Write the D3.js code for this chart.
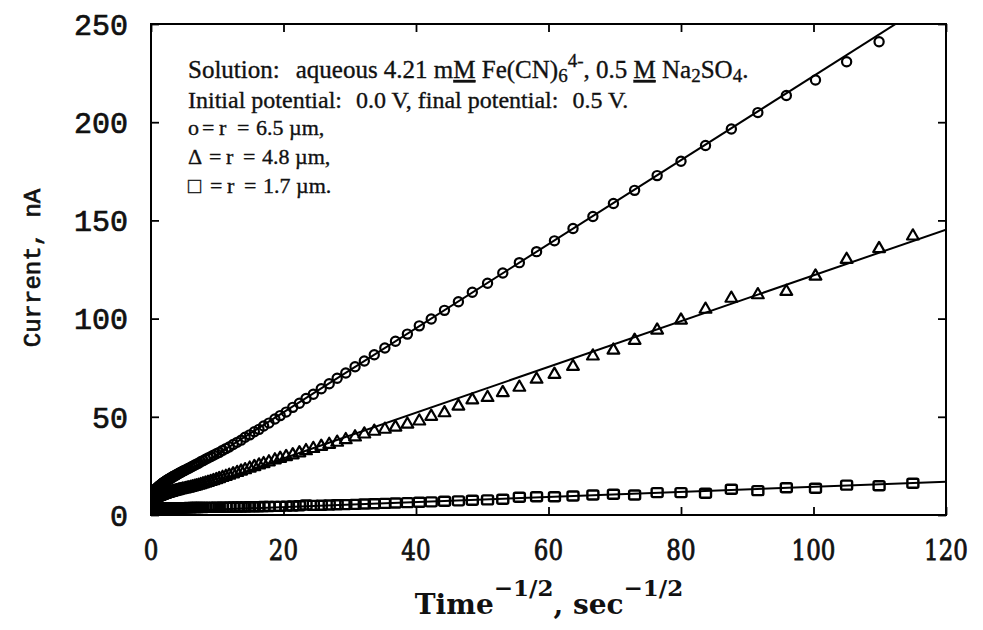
<!DOCTYPE html>
<html><head><meta charset="utf-8">
<script src="https://cdn.jsdelivr.net/npm/d3@7"></script>
<style>
body{margin:0;background:#fff;}
svg{display:block;}
</style></head><body>
<svg id="chart" width="983" height="630"></svg>
<script>
// Time^-1/2 (sec^-1/2) at which the current was sampled
const invSqrtTime = [0.50,0.52,0.54,0.57,0.59,0.62,0.65,0.68,0.71,0.74,0.78,0.81,0.85,0.89,0.93,0.97,
  1.02,1.07,1.12,1.17,1.22,1.28,1.34,1.40,1.47,1.53,1.60,1.68,1.76,1.84,1.92,
  2.01,2.11,2.21,2.31,2.42,2.53,2.65,2.77,2.90,3.03,3.17,3.32,3.47,3.64,3.80,3.98,
  4.17,4.36,4.56,4.77,5.00,5.23,5.47,5.72,5.99,6.27,6.56,6.86,7.18,7.51,7.86,8.23,8.61,
  9.01,9.43,9.87,10.3,10.8,11.3,11.8,12.4,13.0,13.6,14.2,14.9,15.6,16.3,17.0,17.8,18.7,19.5,
  20.4,21.4,22.4,23.4,24.5,25.7,26.9,28.1,29.4,30.8,32.2,33.7,35.3,36.9,38.7,40.5,42.3,44.3,
  46.4,48.5,50.8,53.1,55.6,58.2,60.9,63.7,66.7,69.8,73.0,76.4,80.0,83.7,87.6,91.6,95.9,
  100.3,105.0,109.9,115.0];

// Current (nA), r = 6.5 um electrode (circles)
const current65 = [12.4,12.1,12.6,12.3,12.8,12.5,12.9,12.7,13.1,12.9,13.3,13.2,13.5,13.4,13.8,13.7,
  14.1,14.0,14.4,14.3,14.7,14.8,15.0,15.1,15.4,15.4,15.8,15.9,16.2,16.3,16.6,
  16.7,17.0,17.2,17.5,17.6,18.0,18.2,18.5,18.6,19.0,19.2,19.6,19.8,20.2,20.4,20.8,
  21.1,21.5,21.8,22.3,22.6,23.0,23.4,23.8,24.3,24.8,25.3,25.9,26.4,27.1,27.7,28.4,29.0,
  29.7,30.5,31.2,31.9,32.9,33.8,34.6,35.9,37.0,38.1,39.6,40.8,42.4,43.6,45.3,46.8,48.9,50.6,
  52.4,54.8,56.9,59.3,61.5,64.3,66.8,69.6,72.3,75.5,78.4,81.6,85.0,88.5,92.1,96.3,99.8,104.2,
  108.6,113.4,118.0,123.2,128.5,134.1,139.6,145.9,152.0,158.6,165.3,172.8,180.1,188.1,196.5,204.9,213.6,
  221.5,230.8,241.0];

// Current (nA), r = 4.8 um electrode (triangles)
const current48 = [8.6,8.4,8.8,8.6,8.9,8.7,9.0,8.8,9.1,8.9,9.2,9.0,9.3,9.1,9.4,9.2,
  9.5,9.3,9.6,9.4,9.7,9.6,9.8,9.7,10.0,9.9,10.2,10.1,10.3,10.3,10.5,
  10.5,10.7,10.7,10.9,10.9,11.1,11.2,11.3,11.4,11.5,11.7,11.8,12.0,12.1,12.3,12.4,
  12.6,12.8,12.9,13.1,13.2,13.4,13.6,13.8,14.0,14.3,14.5,14.8,15.1,15.4,15.8,16.2,16.6,
  17.0,17.5,18.0,18.5,19.1,19.6,20.2,20.9,21.6,22.3,23.0,23.8,24.6,25.4,26.1,27.0,28.0,28.8,
  29.7,30.6,31.6,32.7,33.8,34.9,35.9,37.0,38.3,39.7,41.2,42.6,43.6,44.7,46.2,47.8,50.2,52.0,
  55.4,58.6,59.8,62.3,65.0,69.1,71.6,75.6,80.9,83.9,88.9,94.1,99.2,104.7,110.3,112.1,113.8,
  121.6,130.1,135.6,142.0];

// Current (nA), r = 1.7 um electrode (squares)
const current17 = [2.8,2.6,2.9,2.7,2.9,2.7,3.0,2.8,3.0,2.8,3.0,2.9,3.1,2.9,3.1,3.0,
  3.1,3.0,3.2,3.0,3.2,3.1,3.2,3.1,3.3,3.2,3.3,3.2,3.3,3.3,3.4,
  3.3,3.4,3.3,3.4,3.4,3.5,3.4,3.5,3.5,3.5,3.5,3.6,3.5,3.6,3.6,3.6,
  3.6,3.7,3.6,3.7,3.7,3.7,3.7,3.8,3.7,3.8,3.8,3.8,3.8,3.9,3.8,3.9,3.9,
  3.9,3.9,4.0,3.9,4.0,4.0,4.0,4.1,4.1,4.1,4.1,4.2,4.2,4.2,4.3,4.3,4.4,4.4,
  4.5,4.6,4.7,5.1,4.9,5.0,5.1,5.2,5.3,5.4,5.6,5.7,5.9,6.1,6.3,6.5,6.7,7.0,
  7.2,7.5,7.7,8.0,9.0,9.3,9.3,9.7,10.2,10.6,10.2,11.4,11.4,11.1,13.1,12.4,13.9,
  13.6,15.2,14.9,16.2];

// Least-squares lines: [time^-1/2, current] at both ends of the x range
const fit65 = [[0, 9.5], [120, 266.3]];
const fit48 = [[0, 5.5], [120, 145.3]];
const fit17 = [[0, 1.5], [120, 16.9]];

const xTicks = [0, 20, 40, 60, 80, 100, 120];
const yTicks = [0, 50, 100, 150, 200, 250];

const svg = d3.select("#chart");
const plotLeft = 151, plotRight = 946, plotTop = 24, plotBottom = 515;
const x = d3.scaleLinear().domain([0, 120]).range([plotLeft, plotRight]);
const y = d3.scaleLinear().domain([0, 250]).range([plotBottom, plotTop]);
const ink = "#111";

svg.append("defs").append("clipPath").attr("id", "plotClip")
  .append("rect").attr("x", plotLeft).attr("y", plotTop)
  .attr("width", plotRight - plotLeft).attr("height", plotBottom - plotTop);

const tickLen = 8;
function styleAxis(g) {
  g.select(".domain").remove();
  g.selectAll(".tick line").attr("stroke", "#000").attr("stroke-width", 1.8);
}
// Inward ticks on all four sides
svg.append("g").attr("transform", `translate(0,${plotBottom})`)
  .call(d3.axisBottom(x).tickValues(xTicks).tickSize(-tickLen).tickFormat(""))
  .call(styleAxis);
svg.append("g").attr("transform", `translate(0,${plotTop})`)
  .call(d3.axisTop(x).tickValues(xTicks).tickSize(-tickLen).tickFormat(""))
  .call(styleAxis);
svg.append("g").attr("transform", `translate(${plotLeft},0)`)
  .call(d3.axisLeft(y).tickValues(yTicks).tickSize(-tickLen).tickFormat(""))
  .call(styleAxis);
svg.append("g").attr("transform", `translate(${plotRight},0)`)
  .call(d3.axisRight(y).tickValues(yTicks).tickSize(-tickLen).tickFormat(""))
  .call(styleAxis);

// Tick labels
svg.append("g").selectAll("text").data(yTicks).join("text")
  .attr("x", plotLeft - 23).attr("y", d => y(d)).attr("dy", "0.36em")
  .attr("text-anchor", "end")
  .attr("font-family", "'Liberation Mono', 'Courier New', monospace")
  .attr("font-size", 30).attr("fill", ink)
  .attr("stroke", ink).attr("stroke-width", 0.7)
  .text(d => d);
svg.append("g").selectAll("text").data(xTicks).join("text")
  .attr("transform", d => `translate(${x(d)},560) scale(1,1.2)`)
  .attr("text-anchor", "middle")
  .attr("font-family", "'DejaVu Serif', serif")
  .attr("font-size", 23).attr("fill", ink)
  .attr("stroke", ink).attr("stroke-width", 0.7)
  .text(d => d);

// Frame
svg.append("rect").attr("x", plotLeft).attr("y", plotTop)
  .attr("width", plotRight - plotLeft).attr("height", plotBottom - plotTop)
  .attr("fill", "none").attr("stroke", "#000").attr("stroke-width", 2);

// Fit lines and data
const plot = svg.append("g").attr("clip-path", "url(#plotClip)");
const line = d3.line().x(d => x(d[0])).y(d => y(d[1]));
[fit65, fit48, fit17].forEach(f => {
  plot.append("path").datum(f).attr("d", line)
    .attr("fill", "none").attr("stroke", "#000").attr("stroke-width", 2);
});

const pts65 = current65.map((v, i) => [invSqrtTime[i], v]);
const pts48 = current48.map((v, i) => [invSqrtTime[i], v]);
const pts17 = current17.map((v, i) => [invSqrtTime[i], v]);

plot.append("g").selectAll("circle").data(pts65).join("circle")
  .attr("cx", d => x(d[0])).attr("cy", d => y(d[1])).attr("r", 4.6)
  .attr("fill", "none").attr("stroke", "#000").attr("stroke-width", 2.2);

const tri = d3.symbol(d3.symbolTriangle, 60);
plot.append("g").selectAll("path").data(pts48).join("path")
  .attr("transform", d => `translate(${x(d[0])},${y(d[1])})`)
  .attr("d", tri)
  .attr("fill", "none").attr("stroke", "#000").attr("stroke-width", 2.2).attr("stroke-linejoin", "round");

plot.append("g").selectAll("rect").data(pts17).join("rect")
  .attr("x", d => x(d[0]) - 5.5).attr("y", d => y(d[1]) - 4.5)
  .attr("width", 11).attr("height", 9).attr("rx", 1.5)
  .attr("fill", "none").attr("stroke", "#000").attr("stroke-width", 2.4);

// Axis titles
svg.append("text")
  .attr("transform", "translate(40,268) rotate(-90)")
  .attr("text-anchor", "middle")
  .attr("font-family", "'Liberation Mono', 'Courier New', monospace")
  .attr("font-size", 24).attr("fill", ink)
  .attr("stroke", ink).attr("stroke-width", 0.7)
  .text("Current, nA");

const xt = svg.append("text")
  .attr("x", 549).attr("y", 614).attr("text-anchor", "middle")
  .attr("font-family", "'DejaVu Serif', serif").attr("font-weight", "bold")
  .attr("font-size", 28).attr("fill", ink);
xt.append("tspan").text("Time");
xt.append("tspan").attr("dy", -18).attr("font-size", 23).text("\u22121/2");
xt.append("tspan").attr("dy", 18).text(", sec");
xt.append("tspan").attr("dy", -18).attr("font-size", 23).text("\u22121/2");

// Experimental conditions and marker key
const legFont = "'Liberation Serif', 'Times New Roman', serif";
function legendLine(yPos, size) {
  return svg.append("text").attr("x", 188).attr("y", yPos)
    .attr("font-family", legFont).attr("font-size", size).attr("fill", ink)
    .attr("stroke", ink).attr("stroke-width", 0.35);
}
const l1 = legendLine(78, 25);
l1.append("tspan").text("Solution:");
l1.append("tspan").attr("dx", 16).text("aqueous 4.21 m");
l1.append("tspan").style("text-decoration", "underline").text("M");
l1.append("tspan").text(" Fe(CN)");
l1.append("tspan").attr("dy", 4).attr("font-size", 19).text("6");
l1.append("tspan").attr("dy", -15).attr("font-size", 19).text("4-");
l1.append("tspan").attr("dy", 11).text(", 0.5 ");
l1.append("tspan").style("text-decoration", "underline").text("M");
l1.append("tspan").text(" Na");
l1.append("tspan").attr("dy", 4).attr("font-size", 19).text("2");
l1.append("tspan").attr("dy", -4).text("SO");
l1.append("tspan").attr("dy", 4).attr("font-size", 19).text("4");
l1.append("tspan").attr("dy", -4).text(".");

const l2 = legendLine(108, 24);
l2.append("tspan").text("Initial potential:");
l2.append("tspan").attr("dx", 14).text("0.0 V, final potential:");
l2.append("tspan").attr("dx", 14).text("0.5 V.");

// Marker key: symbol, "=", "r", "=", radius set at fixed columns
const keyRows = [
  {sym: "o", val: "6.5 \u00b5m,", y: 135, cEq: 202, cR: 219, cEq2: 237, cVal: 256},
  {sym: "\u0394", val: "4.8 \u00b5m,", y: 164, cEq: 209, cR: 226, cEq2: 243, cVal: 262},
  {sym: "\u25a1", val: "1.7 \u00b5m.", y: 193, cEq: 210, cR: 227, cEq2: 244, cVal: 263}
];
keyRows.forEach(r => {
  const t = legendLine(r.y, 22);
  t.append("tspan").text(r.sym);
  t.append("tspan").attr("x", r.cEq).text("=");
  t.append("tspan").attr("x", r.cR).text("r");
  t.append("tspan").attr("x", r.cEq2).text("=");
  t.append("tspan").attr("x", r.cVal).text(r.val);
});
</script>
</body></html>
